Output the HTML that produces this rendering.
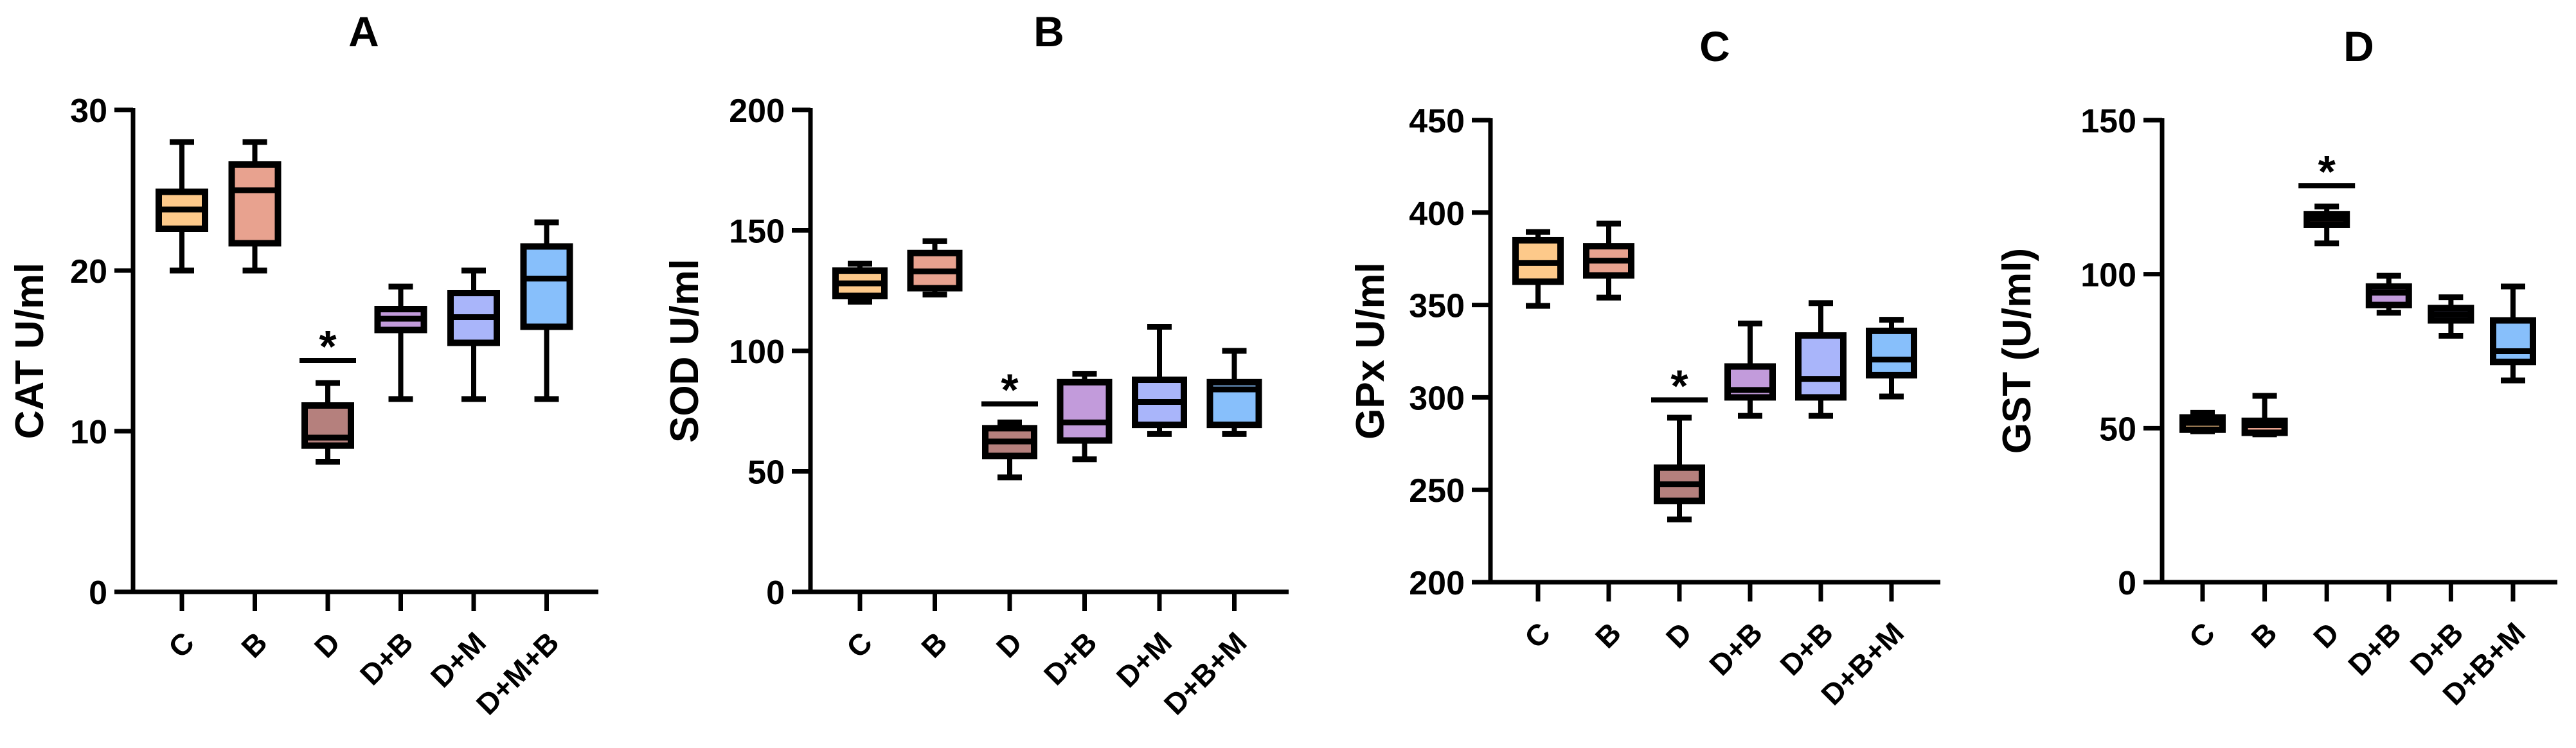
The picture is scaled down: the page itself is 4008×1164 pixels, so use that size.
<!DOCTYPE html>
<html><head><meta charset="utf-8"><style>
html,body{margin:0;padding:0;background:#fff;}
svg{display:block;font-family:"Liberation Sans",Arial,sans-serif;font-weight:bold;}
</style></head><body>
<svg id="fig" width="4008" height="1164" viewBox="0 0 4008 1164" xmlns="http://www.w3.org/2000/svg"></svg>
<script>
const colors = ["#FDC98A","#E8A28F","#B5807D","#C29BDB","#A9B5FA","#87BFFB"];
// Panel A - CAT
const catLabels = ["C","B","D","D+B","D+M","D+M+B"];
const catMin = [20,20,8.1,12,12,12];
const catQ1 = [22.6,21.7,9.1,16.3,15.5,16.5];
const catMed = [23.8,25,9.6,17.0,17.1,19.5];
const catQ3 = [24.9,26.6,11.6,17.6,18.6,21.5];
const catMax = [28,28,13,19,20,23];
const catTicks = [0,10,20,30];
// Panel B - SOD
const sodLabels = ["C","B","D","D+B","D+M","D+B+M"];
const sodMin = [120.4,123.4,47.5,55,65.5,65.5];
const sodQ1 = [122.8,126,56.4,62.8,69.3,69.3];
const sodMed = [128,133,62.4,70.3,78.8,84];
const sodQ3 = [133.3,140.6,67.9,87,88,87];
const sodMax = [136.2,145.5,70.3,90.5,110,100];
const sodTicks = [0,50,100,150,200];
// Panel C - GPx
const gpxLabels = ["C","B","D","D+B","D+B","D+B+M"];
const gpxMin = [349.5,354,234,290,290,300.5];
const gpxQ1 = [362.6,366,244,300,300,312];
const gpxMed = [372.7,374,253,304,310,320.5];
const gpxQ3 = [385,381.8,262,316.7,333.5,336];
const gpxMax = [389.5,394,289,340,351,342];
const gpxTicks = [200,250,300,350,400,450];
// Panel D - GST
const gstLabels = ["C","B","D","D+B","D+B","D+B+M"];
const gstMin = [49,48,110,87.5,80,65.5];
const gstQ1 = [49.5,48.5,116,90,85,71.5];
const gstMed = [51.7,51,118,94,87,75];
const gstQ3 = [53.5,52.4,119.5,96,89,85];
const gstMax = [55,60.5,122,99.5,92.5,96];
const gstTicks = [0,50,100,150];

const panels = [
 {id:"a",title:"A",ytitle:"CAT U/ml",labels:catLabels,mn:catMin,q1:catQ1,md:catMed,q3:catQ3,mx:catMax,ticks:catTicks,
  ax:207,top:171,bot:921,xend:931,x0:283,dx:113.5,bw:72,tx:566,ty:48,ytx:45,sig:14.4},
 {id:"b",title:"B",ytitle:"SOD U/ml",labels:sodLabels,mn:sodMin,q1:sodQ1,md:sodMed,q3:sodQ3,mx:sodMax,ticks:sodTicks,
  ax:1261,top:171,bot:921,xend:2005,x0:1338,dx:116.5,bw:76,tx:1632,ty:48,ytx:1064,sig:78},
 {id:"c",title:"C",ytitle:"GPx U/ml",labels:gpxLabels,mn:gpxMin,q1:gpxQ1,md:gpxMed,q3:gpxQ3,mx:gpxMax,ticks:gpxTicks,
  ax:2319,top:187,bot:906,xend:3019,x0:2393,dx:110,bw:70,tx:2668,ty:71,ytx:2131,sig:298.6},
 {id:"d",title:"D",ytitle:"GST (U/ml)",labels:gstLabels,mn:gstMin,q1:gstQ1,md:gstMed,q3:gstQ3,mx:gstMax,ticks:gstTicks,
  ax:3364,top:187,bot:906,xend:3979,x0:3427,dx:96.6,bw:62,tx:3670,ty:71,ytx:3137,sig:128.7}
];
const NS="http://www.w3.org/2000/svg";
const svg=document.getElementById("fig");
function mk(tag,attrs,parent){const e=document.createElementNS(NS,tag);for(const k in attrs)e.setAttribute(k,attrs[k]);(parent||svg).appendChild(e);return e;}
panels.forEach(p=>{
  const g=mk("g",{});
  
  
  const t0=p.ticks[0],t1=p.ticks[p.ticks.length-1];
  const y=v=>p.bot-(v-t0)/(t1-t0)*(p.bot-p.top);
  const x=i=>p.x0+i*p.dx;
  const title=mk("text",{x:p.tx,y:p.ty+24,"text-anchor":"middle","font-size":66},g);title.textContent=p.title;
  
  
  const cy=546;
  const yt=mk("text",{x:p.ytx,y:cy,"text-anchor":"middle","font-size":62,transform:`rotate(-90 ${p.ytx} ${cy}) translate(0 22)`},g);yt.textContent=p.ytitle;
  
  
  const axes=mk("path",{d:`M${p.ax} ${p.top-3}V${p.bot}H${p.xend}`,stroke:"#000","stroke-width":7,fill:"none"},g);
  
  
  p.ticks.forEach(v=>{
    const tk=mk("line",{x1:p.ax-29,x2:p.ax,y1:y(v),y2:y(v),stroke:"#000","stroke-width":7},g);
    
    
    const tl=mk("text",{x:p.ax-40,y:y(v)+19,"text-anchor":"end","font-size":52},g);tl.textContent=v;
    
    
  });
  p.labels.forEach((lab,i)=>{
    const xi=x(i);
    const tk=mk("line",{x1:xi,x2:xi,y1:p.bot,y2:p.bot+30,stroke:"#000","stroke-width":7},g);
    
    
    const lx=xi+22,ly=p.bot+82;
    const tl=mk("text",{x:lx,y:ly,"text-anchor":"end","font-size":46,transform:`rotate(-45 ${lx} ${ly})`},g);tl.textContent=lab;
    
    
    const bx=mk("g",{},g);
    
    
    const cw=38;
    mk("line",{x1:xi,x2:xi,y1:y(p.mx[i]),y2:y(p.mn[i]),stroke:"#000","stroke-width":8},bx);
    mk("line",{x1:xi-cw/2,x2:xi+cw/2,y1:y(p.mx[i]),y2:y(p.mx[i]),stroke:"#000","stroke-width":9},bx);
    mk("line",{x1:xi-cw/2,x2:xi+cw/2,y1:y(p.mn[i]),y2:y(p.mn[i]),stroke:"#000","stroke-width":9},bx);
    const ytop=y(p.q3[i]),ybot=y(p.q1[i]);
    mk("rect",{x:xi-p.bw/2,y:ytop,width:p.bw,height:Math.max(ybot-ytop,1),fill:colors[i],stroke:"#000","stroke-width":10},bx);
    mk("line",{x1:xi-p.bw/2,x2:xi+p.bw/2,y1:y(p.md[i]),y2:y(p.md[i]),stroke:"#000","stroke-width":9},bx);
  });
  const sx=x(2),sy=y(p.sig);
  const sl=mk("line",{x1:sx-44,x2:sx+44,y1:sy,y2:sy,stroke:"#000","stroke-width":8},g);
  
  
  const st=mk("text",{x:sx,y:sy+2,"text-anchor":"middle","font-size":70},g);st.textContent="*";
  
  
});
</script>
</body></html>
